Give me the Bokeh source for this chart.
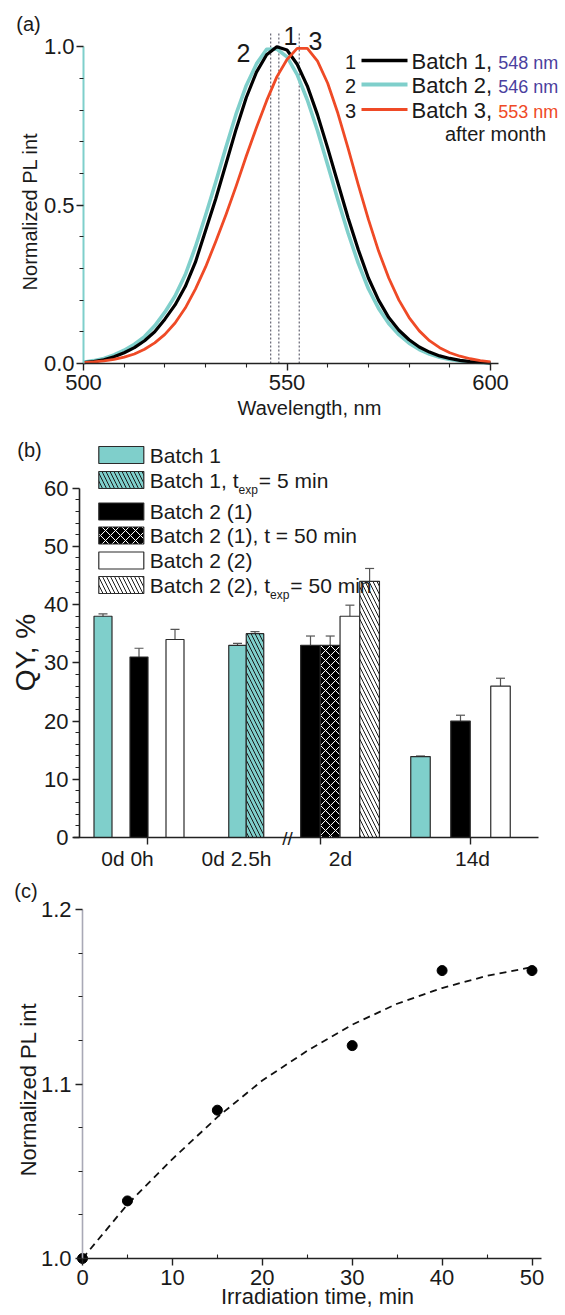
import math
from bokeh.plotting import figure
from bokeh.layouts import column
from bokeh.models import (Range1d, FixedTicker, Label, Whisker, TeeHead,
                          ColumnDataSource, NumeralTickFormatter)
from bokeh.embed import file_html
from bokeh.resources import INLINE

FONT = "Liberation Sans"
TXT = "#1a1a1a"

# ---------------------------------------------------------------- data (a)
wavelength_nm = [500.0, 502.5, 505.0, 507.5, 510.0, 512.5, 515.0, 517.5, 520.0, 522.5,
                 525.0, 527.5, 530.0, 532.5, 535.0, 537.5, 540.0, 542.5, 545.0, 547.5,
                 550.0, 552.5, 555.0, 557.5, 560.0, 562.5, 565.0, 567.5, 570.0, 572.5,
                 575.0, 577.5, 580.0, 582.5, 585.0, 587.5, 590.0, 592.5, 595.0, 597.5,
                 600.0]
pl_batch1 = [0.003, 0.006, 0.012, 0.021, 0.034, 0.050, 0.072, 0.100, 0.140, 0.185,
             0.243, 0.320, 0.420, 0.520, 0.630, 0.740, 0.840, 0.920, 0.975, 1.000,
             0.990, 0.945, 0.876, 0.785, 0.680, 0.570, 0.460, 0.360, 0.270, 0.200,
             0.145, 0.105, 0.075, 0.052, 0.036, 0.024, 0.016, 0.010, 0.006, 0.004,
             0.002]
pl_batch2 = [0.004, 0.009, 0.016, 0.027, 0.042, 0.061, 0.085, 0.119, 0.162, 0.213,
             0.280, 0.368, 0.468, 0.573, 0.683, 0.788, 0.878, 0.946, 0.992, 0.993,
             0.968, 0.912, 0.832, 0.735, 0.627, 0.517, 0.412, 0.317, 0.236, 0.174,
             0.126, 0.091, 0.064, 0.044, 0.030, 0.020, 0.013, 0.008, 0.005, 0.003,
             0.001]
pl_batch3 = [0.003, 0.005, 0.008, 0.013, 0.020, 0.030, 0.045, 0.065, 0.092, 0.128,
             0.175, 0.235, 0.305, 0.385, 0.470, 0.560, 0.655, 0.745, 0.830, 0.905,
             0.960, 0.995, 0.995, 0.955, 0.885, 0.790, 0.680, 0.565, 0.455, 0.355,
             0.270, 0.200, 0.145, 0.103, 0.072, 0.050, 0.034, 0.023, 0.015, 0.009,
             0.005]
batch_names = ["Batch 1,", "Batch 2,", "Batch 3,"]
peak_nm = [548, 546, 553]
batch_colors = ["#000000", "#7fcfcb", "#ef4a26"]
peak_text_colors = ["#4b3f9e", "#4b3f9e", "#ef4a26"]

# ---------------------------------------------------------------- data (b)
groups = ["0d 0h", "0d 2.5h", "2d", "14d"]
series = ["Batch 1", "Batch 1, t|exp|= 5 min", "Batch 2 (1)",
          "Batch 2 (1),  t = 50 min", "Batch 2 (2)", "Batch 2 (2), t|exp|= 50 min"]
bar_group = [0, 0, 0, 1, 1, 2, 2, 2, 2, 3, 3, 3]
bar_series = [0, 2, 4, 0, 1, 2, 3, 4, 5, 0, 2, 4]
qy = [38.0, 31.0, 34.0, 33.0, 35.0, 33.0, 33.0, 38.0, 44.0, 13.9, 20.0, 26.0]
qy_err = [0.4, 1.5, 1.75, 0.35, 0.35, 1.6, 1.6, 1.9, 2.2, 0.1, 1.0, 1.35]

# ---------------------------------------------------------------- data (c)
irr_time = [0, 5, 15, 30, 40, 50]
pl_norm = [1.000, 1.033, 1.085, 1.122, 1.165, 1.165]
fit_time = [0, 5, 10, 15, 20, 25, 30, 35, 40, 45, 50]
fit_pl = [1.000, 1.031, 1.057, 1.081, 1.102, 1.119, 1.134, 1.146, 1.155, 1.162, 1.167]

# ---------------------------------------------------------------- helpers
ARIAL = {' ': 278, ',': 278, '(': 333, ')': 333, '.': 278, '=': 584, 'B': 667,
         'a': 556, 't': 278, 'c': 500, 'h': 556, 'e': 556, 'x': 500, 'p': 556,
         'm': 833, 'i': 222, 'n': 556, 'f': 278, 'o': 556, 'r': 333}

PAGE_W = 563


def text_w(s, size):
    return sum(ARIAL.get(c, 556) for c in s) * size / 1000.0


def make_fig(h, xr, yr):
    p = figure(width=PAGE_W, height=h, x_range=xr, y_range=yr, title=None,
               output_backend="svg", toolbar_location=None, min_border=0)
    p.outline_line_color = None
    p.grid.visible = False
    p.background_fill_color = "white"
    p.border_fill_color = "white"
    return p


def style_axis(ax, line_color="#222222", minor_in=False):
    ax.axis_line_color = line_color
    ax.axis_line_width = 1.6
    ax.major_tick_line_color = "#222222"
    ax.major_tick_line_width = 1.4
    ax.minor_tick_line_color = "#222222"
    ax.minor_tick_line_width = 1.1
    ax.major_tick_in = 0
    ax.major_tick_out = 7
    ax.minor_tick_in = 4 if minor_in else 0
    ax.minor_tick_out = 0 if minor_in else 4
    ax.major_label_text_font = FONT
    ax.major_label_text_font_size = "22px"
    ax.major_label_text_color = TXT
    ax.major_label_standoff = 4


def add_label(p, x, y, text, size, color=TXT, align="center", baseline="middle", angle=0.0):
    p.add_layout(Label(x=x, y=y, text=text, text_font=FONT, text_font_size=f"{size}px",
                       text_color=color, text_align=align, text_baseline=baseline,
                       angle=angle))


# page geometry (px from page top-left); each canvas is entirely plotting frame,
# axes sit at fixed data locations
PAGE_L, PAGE_R = 0, PAGE_W
A_TOP, A_BOT, B_BOT, C_BOT = 0, 425, 872, 1313

# ================================================================ panel (a)
A_X0, A_PXNM, A_Y0, A_PXU = 83, 4.07, 363, 316.7


def ax_(px):
    return 500 + (px - A_X0) / A_PXNM


def ay_(py):
    return (A_Y0 - py) / A_PXU


pa = make_fig(A_BOT - A_TOP, Range1d(ax_(PAGE_L), ax_(PAGE_R)), Range1d(ay_(A_BOT), ay_(A_TOP)))
style_axis(pa.xaxis[0])
pa.xaxis[0].fixed_location = 0
pa.xaxis[0].ticker = FixedTicker(ticks=[500, 550, 600],
                                 minor_ticks=[510, 520, 530, 540, 560, 570, 580, 590])
pa.xaxis[0].bounds = (500, 602)
style_axis(pa.yaxis[0], line_color="#7fcfcb")
pa.yaxis[0].fixed_location = 500
pa.yaxis[0].axis_line_width = 2
pa.yaxis[0].ticker = FixedTicker(ticks=[0, 0.5, 1.0],
                                 minor_ticks=[0.1, 0.2, 0.3, 0.4, 0.6, 0.7, 0.8, 0.9])
pa.yaxis[0].formatter = NumeralTickFormatter(format="0.0")
pa.yaxis[0].bounds = (0, 1)
pa.yaxis[0].major_label_standoff = 2

# dashed peak markers
pa.segment(x0=peak_nm, y0=[0] * 3, x1=peak_nm, y1=[ay_(31)] * 3,
           line_color="#444455", line_width=1, line_dash="2 2")
curves = [pl_batch1, pl_batch2, pl_batch3]
widths = [3.2, 3.6, 2.8]
for idx in [1, 0, 2]:
    pa.line(wavelength_nm, curves[idx], line_color=batch_colors[idx],
            line_width=widths[idx], line_join="round")

# peak numbers near curves
peak_num_pos = [(290, 35), (243, 52), (315, 40)]
for i, (px, py) in enumerate(peak_num_pos):
    add_label(pa, ax_(px), ay_(py), str(i + 1), 25)

# legend (a)
rows_a = [61, 85, 110]
for i in range(3):
    yb = rows_a[i]
    add_label(pa, ax_(350), ay_(yb), str(i + 1), 20)
    pa.segment(x0=[ax_(361)], y0=[ay_(yb - 1)], x1=[ax_(407)], y1=[ay_(yb - 1)],
               line_color=batch_colors[i], line_width=widths[i] + 0.4)
    add_label(pa, ax_(411), ay_(yb), batch_names[i], 22, align="left")
    x_nm = 411 + text_w(batch_names[i], 22) + 6
    add_label(pa, ax_(x_nm), ay_(yb + 1), f"{peak_nm[i]} nm", 18,
              color=peak_text_colors[i], align="left")
add_label(pa, ax_(495), ay_(133), "after month", 20)

add_label(pa, ax_(28), ay_(23), "(a)", 20)
add_label(pa, ax_(29), ay_(211), "Normalized PL int", 20, angle=math.pi / 2)
add_label(pa, ax_(309), ay_(407), "Wavelength, nm", 20)

# ================================================================ panel (b)
B_X0, B_Y0, B_PXU = 79, 837, 5.823


def bx_(px):
    return px - B_X0


def by_(py):
    return (B_Y0 - py) / B_PXU


pb = make_fig(B_BOT - A_BOT, Range1d(bx_(PAGE_L), bx_(PAGE_R)), Range1d(by_(B_BOT), by_(A_BOT)))
style_axis(pb.yaxis[0])
pb.yaxis[0].fixed_location = 0
pb.yaxis[0].ticker = FixedTicker(ticks=[0, 10, 20, 30, 40, 50, 60],
                                 minor_ticks=[v for v in range(2, 60, 2) if v % 10])
pb.yaxis[0].bounds = (0, 60)
style_axis(pb.xaxis[0])
pb.xaxis[0].fixed_location = 0
pb.xaxis[0].ticker = FixedTicker(ticks=[], minor_ticks=[])
pb.xaxis[0].bounds = (bx_(73), bx_(538))

# bar layout (screen geometry, px): first bar centre, step, bar width per group
group_first = [bx_(102.5), bx_(237), bx_(310), bx_(420)]
group_step = [36, 17.5, 19.7, 40]
group_barw = [18, 17.5, 19.7, 19.5]
group_label_x = [bx_(127), bx_(236), bx_(340), bx_(472)]
axis_tick_x = [bx_(147), bx_(320), bx_(470)]

CYAN = "#7fcfcb"
series_style = [
    dict(fill_color=CYAN),
    dict(fill_color=CYAN, hatch_pattern="left_diagonal_line", hatch_color="#1a1a1a",
         hatch_scale=8, hatch_weight=1),
    dict(fill_color="#000000"),
    dict(fill_color="#000000", hatch_pattern="diagonal_cross", hatch_color="#ffffff",
         hatch_scale=10, hatch_weight=1),
    dict(fill_color="#ffffff"),
    dict(fill_color="#ffffff", hatch_pattern="left_diagonal_line", hatch_color="#1a1a1a",
         hatch_scale=8, hatch_weight=1),
]

rank = {}
bar_x, bar_w = [], []
for g in bar_group:
    r = rank.get(g, 0)
    rank[g] = r + 1
    bar_x.append(group_first[g] + r * group_step[g])
    bar_w.append(group_barw[g])

for s in range(len(series)):
    idx = [i for i in range(len(qy)) if bar_series[i] == s]
    src = ColumnDataSource(dict(x=[bar_x[i] for i in idx], top=[qy[i] for i in idx],
                                w=[bar_w[i] for i in idx]))
    pb.vbar(x="x", top="top", width="w", bottom=0, source=src,
            line_color="#2b2b2b", line_width=1.2, **series_style[s])

err_src = ColumnDataSource(dict(x=bar_x, upper=[v + e for v, e in zip(qy, qy_err)],
                                lower=[v - e for v, e in zip(qy, qy_err)]))
pb.add_layout(Whisker(source=err_src, base="x", upper="upper", lower="lower",
                      line_color="#555555", line_width=1.2,
                      upper_head=TeeHead(size=9, line_color="#555555", line_width=1.2),
                      lower_head=TeeHead(size=9, line_color="#555555", line_width=1.2)))

# x-axis tick marks and axis break mark
pb.segment(x0=axis_tick_x, y0=[0] * 3, x1=axis_tick_x, y1=[-7 / B_PXU] * 3,
           line_color="#222222", line_width=1.4)
add_label(pb, bx_(287), by_(838), "//", 19)

for gx, gname in zip(group_label_x, groups):
    add_label(pb, gx, by_(858), gname, 21)

# legend (b)
rows_b = [454.5, 479.5, 511, 535, 560, 584.5]
for s, name in enumerate(series):
    yc = rows_b[s]
    pb.rect(x=[bx_(120.8)], y=[by_(yc)], width=45, height=17 / B_PXU,
            line_color="#2b2b2b", line_width=1.2, **series_style[s])
    parts = name.split("|")
    x = 149.3
    for k, part in enumerate(parts):
        if k == 1:
            add_label(pb, bx_(x), by_(yc + 10), part, 12, align="left")
            x += text_w(part, 12) + 1
        else:
            add_label(pb, bx_(x), by_(yc), part, 21, align="left")
            x += text_w(part, 21)

add_label(pb, bx_(29), by_(449), "(b)", 20)
add_label(pb, bx_(25), by_(652), "QY, %", 28, angle=math.pi / 2)

# ================================================================ panel (c)
C_X0, C_PXU_X, C_Y0, C_PXU_Y = 82, 8.99, 1258, 1745.0


def cx_(px):
    return (px - C_X0) / C_PXU_X


def cy_(py):
    return 1.0 + (C_Y0 - py) / C_PXU_Y


pc = make_fig(C_BOT - B_BOT, Range1d(cx_(PAGE_L), cx_(PAGE_R)), Range1d(cy_(C_BOT), cy_(B_BOT)))
style_axis(pc.xaxis[0], minor_in=True)
pc.xaxis[0].fixed_location = 1.0
pc.xaxis[0].ticker = FixedTicker(ticks=[0, 10, 20, 30, 40, 50], minor_ticks=[5, 15, 25, 35, 45])
pc.xaxis[0].bounds = (0, cx_(541))
style_axis(pc.yaxis[0], line_color="#a9a9b6")
pc.yaxis[0].fixed_location = 0
pc.yaxis[0].ticker = FixedTicker(ticks=[1.0, 1.1, 1.2],
                                 minor_ticks=[1.025, 1.05, 1.075, 1.125, 1.15, 1.175])
pc.yaxis[0].formatter = NumeralTickFormatter(format="0.0")
pc.yaxis[0].bounds = (1.0, 1.2)

pc.line(fit_time, fit_pl, line_color="#111111", line_width=1.8, line_dash="7 5")
pc.scatter(irr_time, pl_norm, size=10, marker="circle", fill_color="#000000",
           line_color="#000000")

add_label(pc, cx_(25.4), cy_(890), "(c)", 20)
add_label(pc, cx_(28), cy_(1089), "Normalized PL int", 22, angle=math.pi / 2)
add_label(pc, cx_(317), cy_(1296), "Irradiation time, min", 22)

layout = column(pa, pb, pc, spacing=0)
open("out.html", "w").write(file_html(layout, INLINE))
